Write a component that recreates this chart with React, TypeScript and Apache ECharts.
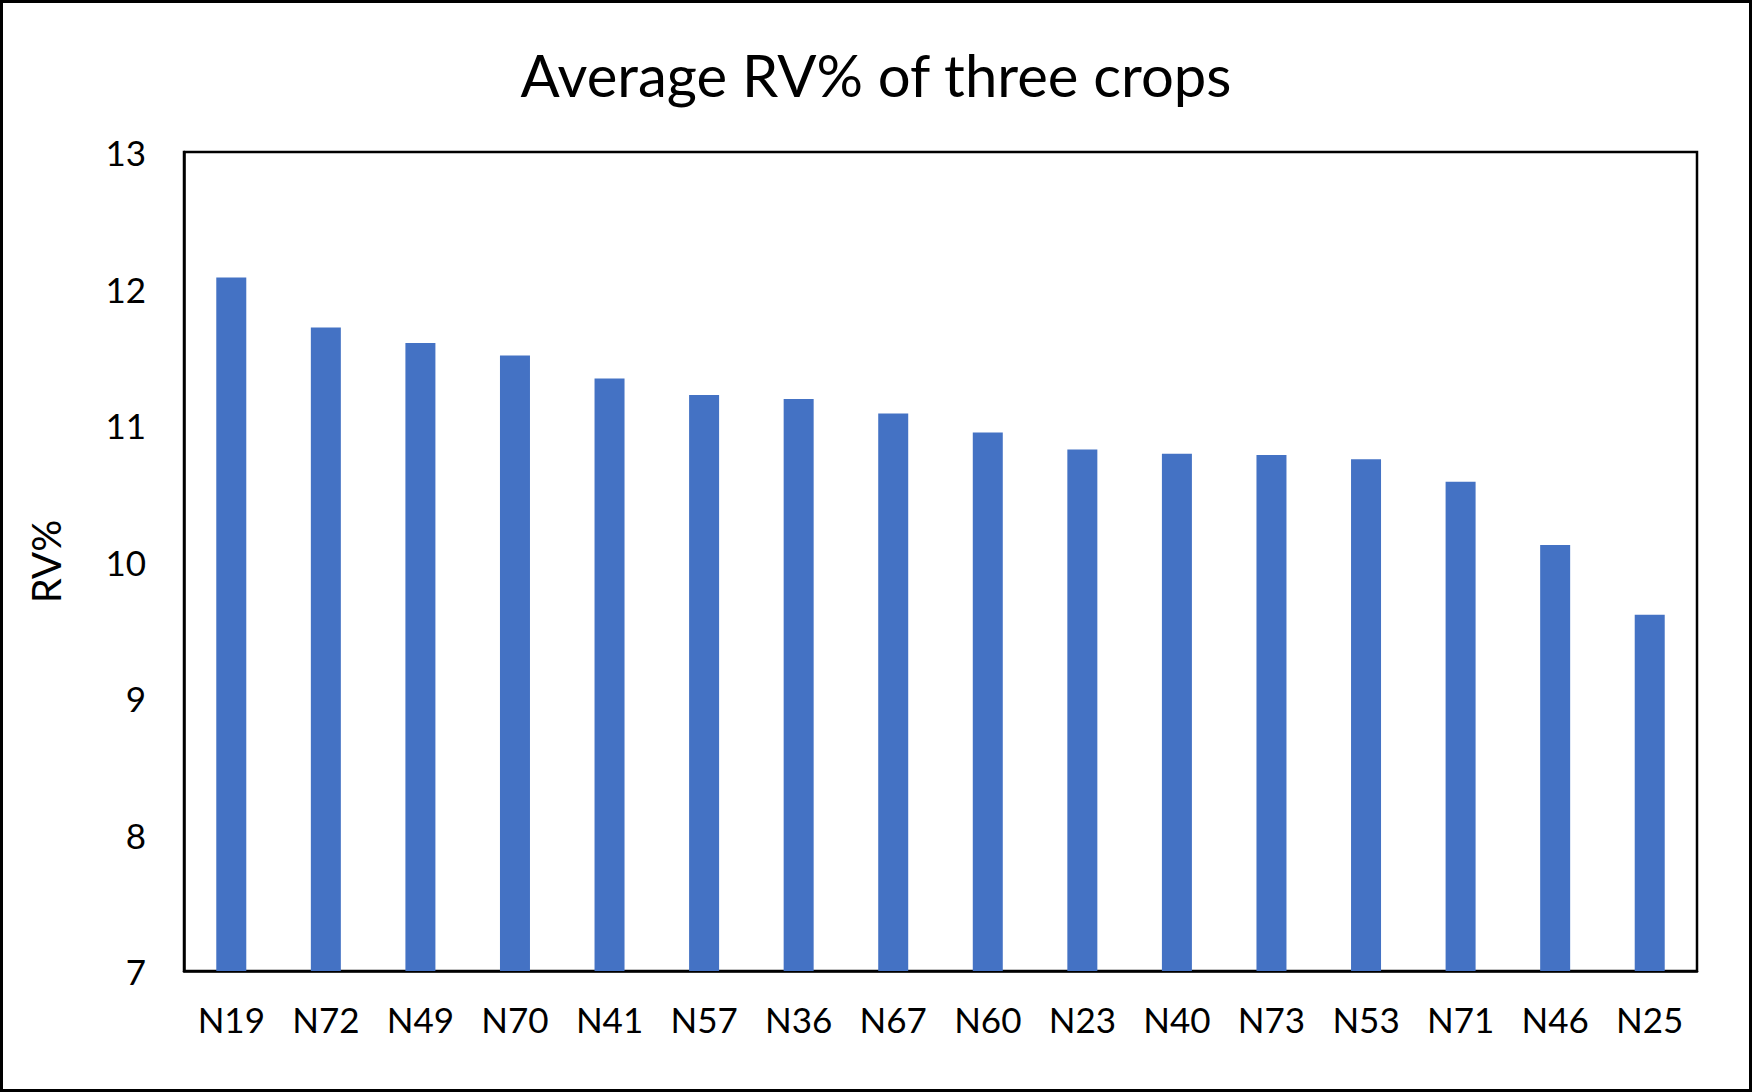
import React, { useEffect, useRef } from "react";
import * as echarts from "echarts";

const categories = ["N19", "N72", "N49", "N70", "N41", "N57", "N36", "N67", "N60", "N23", "N40", "N73", "N53", "N71", "N46", "N25"];
const rvValues = [12.08, 11.715, 11.6, 11.51, 11.34, 11.22, 11.19, 11.085, 10.945, 10.82, 10.79, 10.78, 10.75, 10.585, 10.12, 9.61];
const yMin = 7;
const yMax = 13;
const yInterval = 1;

const FONT = "Lato";

export default function App() {
  const ref = useRef<HTMLDivElement>(null);
  useEffect(() => {
    document.body.style.margin = "0";
    const chart = echarts.init(ref.current!, null, { renderer: "svg" });
    chart.setOption({
      animation: false,
      backgroundColor: "#ffffff",
      title: {
        text: "Average RV% of three crops",
        left: "center",
        top: 40,
        textStyle: { fontFamily: FONT, fontSize: 58, fontWeight: "normal", color: "#000" },
      },
      grid: {
        left: 184,
        right: 55,
        top: 152,
        bottom: 121,
        containLabel: false,
        outerBoundsMode: "none",
        show: true,
        borderColor: "#000",
        borderWidth: 2.5,
        backgroundColor: "transparent",
      },
      xAxis: {
        type: "category",
        data: categories,
        axisLine: { show: true, lineStyle: { color: "#000", width: 2.5 } },
        axisTick: { show: false },
        axisLabel: { color: "#000", fontFamily: FONT, fontSize: 35, margin: 30, interval: 0 },
        splitLine: { show: false },
      },
      yAxis: {
        type: "value",
        min: yMin,
        max: yMax,
        interval: yInterval,
        name: "RV%",
        nameLocation: "middle",
        nameGap: 118,
        nameTextStyle: { color: "#000", fontFamily: FONT, fontSize: 40 },
        axisLine: { show: true, lineStyle: { color: "#000", width: 2.5 } },
        axisTick: { show: false },
        axisLabel: { color: "#000", fontFamily: FONT, fontSize: 35, margin: 38 },
        splitLine: { show: false },
      },
      series: [
        {
          type: "bar",
          data: rvValues,
          barWidth: 30,
          itemStyle: { color: "#4472C4" },
        },
      ],
      graphic: [
        {
          type: "rect",
          shape: { x: 1.5, y: 1.5, width: 1749, height: 1089 },
          style: { fill: "none", stroke: "#000", lineWidth: 3 },
          silent: true,
        },
      ],
    });
    return () => chart.dispose();
  }, []);
  return <div ref={ref} style={{ width: 1752, height: 1092 }} />;
}
